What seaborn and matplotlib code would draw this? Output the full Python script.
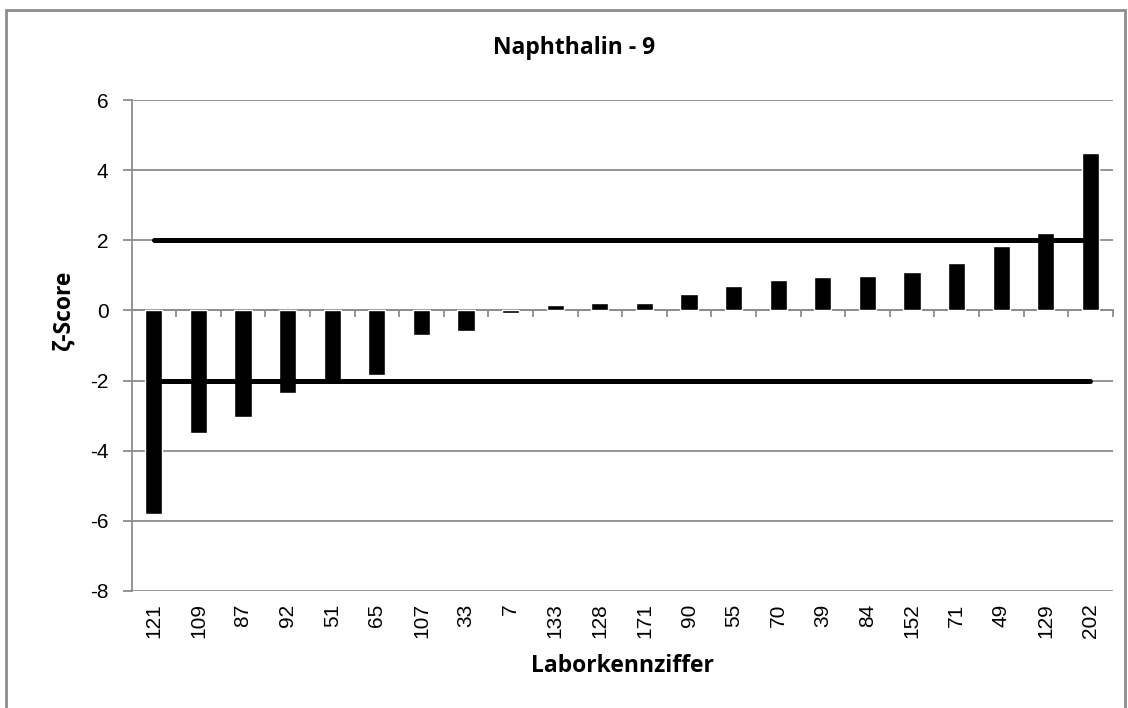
import matplotlib.pyplot as plt
import pandas as pd
import seaborn as sns
from matplotlib.patches import Rectangle

# Laboratory codes (x categories) and zeta-scores, sorted ascending
labs = ["121", "109", "87", "92", "51", "65", "107", "33", "7", "133", "128",
        "171", "90", "55", "70", "39", "84", "152", "71", "49", "129", "202"]
scores = [-5.80, -3.49, -3.04, -2.35, -2.00, -1.83, -0.70, -0.60, -0.07, 0.15, 0.20,
          0.21, 0.47, 0.70, 0.88, 0.95, 0.97, 1.10, 1.35, 1.84, 2.21, 4.48]
upper_limit = [2] * len(labs)
lower_limit = [-2] * len(labs)
y_ticks = [-8, -6, -4, -2, 0, 2, 4, 6]

GRAY = "#8c8c8c"

sns.set_theme(style="white")
plt.rcParams["font.family"] = ["Liberation Sans", "DejaVu Sans"]
plt.rcParams["axes.unicode_minus"] = False
plt.rcParams["text.color"] = "black"
plt.rcParams["xtick.color"] = "black"
plt.rcParams["ytick.color"] = "black"

W, H = 1128, 708
fig = plt.figure(figsize=(W / 100, H / 100), dpi=100)
# plot area in pixels: x 131.5..1112.7, y 100..591
ax = fig.add_axes([131.5 / W, 1 - 591 / H, (1112.7 - 131.5) / W, (591 - 100) / H])

df = pd.DataFrame({"lab": labs, "score": scores})
sns.barplot(data=df, x="lab", y="score", order=labs, color="black", saturation=1,
            width=0.39, ax=ax, zorder=3)

pos = list(range(len(labs)))
sns.lineplot(x=pos, y=upper_limit, color="black", linewidth=3.6, ax=ax, zorder=4)
sns.lineplot(x=pos, y=lower_limit, color="black", linewidth=3.6, ax=ax, zorder=4)

ax.set_xlim(-0.5, len(labs) - 0.5)
ax.set_ylim(-8, 6)
ax.set_yticks(y_ticks)
ax.yaxis.grid(True, color=GRAY, linewidth=1.3)
ax.set_axisbelow(True)

for side in ["top", "right"]:
    ax.spines[side].set_visible(False)
ax.spines["left"].set_color(GRAY)
ax.spines["left"].set_linewidth(1.3)
ax.spines["bottom"].set_position(("data", 0))
ax.spines["bottom"].set_color(GRAY)
ax.spines["bottom"].set_linewidth(1.3)
ax.spines["bottom"].set_zorder(2)

# tick marks on the zero line between categories, labels at the bottom
ax.set_xticks([p + 0.5 for p in pos], labels=[""] * len(pos))
ax.tick_params(axis="x", direction="out", length=5, width=1.3, color=GRAY, bottom=True)
ax.tick_params(axis="y", direction="out", length=6.5, width=1.3, color=GRAY, left=True,
               labelsize=15, labelcolor="black", pad=10)
ax.set_xlabel("")
ax.set_ylabel("")

sec = ax.secondary_xaxis("bottom")
sec.set_xticks(pos, labels=labs)
sec.tick_params(length=0, pad=9, labelsize=15, labelcolor="black", labelrotation=90)
sec.spines["bottom"].set_visible(False)

title_font = ["Open Sans", "DejaVu Sans"]
fig.text(574 / W, 1 - 48 / H, "Naphthalin - 9", ha="center", va="center",
         fontsize=16.5, fontweight="bold", family=title_font, color="black")
fig.text(622 / W, 1 - 666 / H, "Laborkennziffer", ha="center", va="center",
         fontsize=16.5, fontweight="bold", family=title_font, color="black")
fig.text(64 / W, 1 - 310 / H, "ζ-Score", ha="center", va="center", rotation=90,
         fontsize=16.5, fontweight="bold", family=title_font, color="black")

# chart frame
fig.patches.append(Rectangle((6 / W, -0.05), (1125 - 6) / W, 1.05 - 10 / H,
                             transform=fig.transFigure, fill=False,
                             edgecolor=GRAY, linewidth=2))

fig.savefig("out.png", dpi=100)
